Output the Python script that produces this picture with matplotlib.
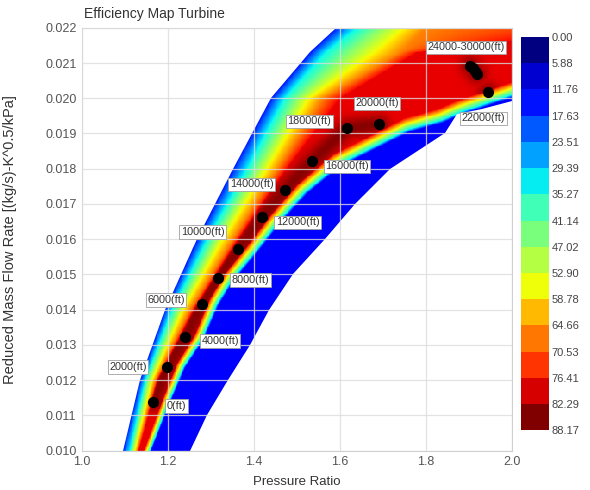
import numpy as np
import matplotlib
matplotlib.use("Agg")
import matplotlib.pyplot as plt
from matplotlib import colors
from matplotlib.cm import ScalarMappable
from matplotlib.patches import Polygon

plt.rcParams['font.family'] = ['Liberation Sans', 'DejaVu Sans']

# operating line: pressure ratio / reduced mass flow at each altitude
op_alt = [0, 2000, 4000, 6000, 8000, 10000, 12000, 14000, 16000, 18000, 20000,
          22000, 24000, 26000, 28000, 30000]
op_pr = [1.165, 1.198, 1.240, 1.279, 1.316, 1.363, 1.419, 1.472, 1.535, 1.616, 1.691,
         1.944, 1.903, 1.908, 1.913, 1.918]
op_mf = [0.01138, 0.01237, 0.01322, 0.01416, 0.01489, 0.01572, 0.01662, 0.01739, 0.01821,
         0.01915, 0.01926, 0.02017, 0.02092, 0.02085, 0.02077, 0.02070]

# altitude tags
tag_text = ["0(ft)", "2000(ft)", "4000(ft)", "6000(ft)", "8000(ft)", "10000(ft)", "12000(ft)",
            "14000(ft)", "16000(ft)", "18000(ft)", "20000(ft)", "22000(ft)", "24000-30000(ft)"]
tag_pr = [1.220, 1.107, 1.321, 1.195, 1.391, 1.281, 1.502, 1.395, 1.616, 1.528, 1.686, 1.933, 1.893]
tag_mf = [0.01126, 0.01237, 0.01311, 0.01427, 0.01484, 0.01620, 0.01648, 0.01756, 0.01807,
          0.01935, 0.01986, 0.01943, 0.02145]

# left flank of the map, per mass-flow row: pressure ratio where each efficiency level sits
row_mf = [0.0100, 0.0120, 0.0140, 0.0160, 0.0180, 0.0200, 0.0213, 0.0220]
edge_pr = [1.095, 1.135, 1.193, 1.268, 1.351, 1.440, 1.530, 1.590]
cyan_pr = [1.111, 1.147, 1.209, 1.291, 1.383, 1.470, 1.565, 1.638]
green_pr = [1.117, 1.154, 1.223, 1.309, 1.407, 1.500, 1.620, 1.693]
yellow_pr = [1.123, 1.163, 1.235, 1.328, 1.430, 1.528, 1.680, 1.750]
orange_pr = [1.128, 1.170, 1.251, 1.351, 1.455, 1.560, 1.740, 1.800]
red_pr = [1.132, 1.177, 1.263, 1.367, 1.477, 1.600, 1.779, 2.250]
flank_eff = [13.0, 32.0, 45.0, 57.0, 68.0, 80.0]

# right rim of the high-efficiency band (green contour)
rim_pr = [1.140, 1.154, 1.198, 1.232, 1.274, 1.309, 1.344, 1.398, 1.455, 1.514, 1.593,
          1.756, 1.833, 1.879, 2.000, 2.100]
rim_mf = [0.0097, 0.0100, 0.0114, 0.0124, 0.0132, 0.0142, 0.0149, 0.0157, 0.0166, 0.0174,
          0.0182, 0.0192, 0.01946, 0.0197, 0.0202, 0.0205]
rim_dist = [-9.0, -6.0, -3.0, 0.0, 3.5, 6.5]
rim_eff = [80.0, 68.0, 57.0, 45.0, 32.0, 10.0]
rim_row_mf = [0.010, 0.014, 0.018, 0.022]
rim_width = [0.45, 0.70, 0.90, 1.00]

# lower / right border of the mapped region (top to bottom)
bound_pr = [2.100, 2.000, 1.930, 1.872, 1.845, 1.715, 1.635, 1.565, 1.490, 1.435, 1.390,
            1.340, 1.290, 1.251, 1.245]
bound_mf = [0.0200, 0.01991, 0.0197, 0.01955, 0.0190, 0.0180, 0.0170, 0.0160, 0.0150,
            0.0140, 0.0130, 0.0120, 0.0110, 0.0100, 0.0098]

cb_bounds = [0.00, 5.88, 11.76, 17.63, 23.51, 29.39, 35.27, 41.14, 47.02, 52.90,
             58.78, 64.66, 70.53, 76.41, 82.29, 88.17]

# screen-like scaling so distances are measured as on the picture
SX, SY = 430.0, 35250.0


def polyline_dist(px, py, lx, ly):
    lx = np.asarray(lx, float)
    ly = np.asarray(ly, float)
    x0, y0 = lx[:-1], ly[:-1]
    dx, dy = np.diff(lx), np.diff(ly)
    t = ((px[..., None] - x0) * dx + (py[..., None] - y0) * dy) / (dx ** 2 + dy ** 2)
    t = np.clip(t, 0, 1)
    return np.hypot(px[..., None] - x0 - t * dx, py[..., None] - y0 - t * dy).min(axis=-1)


xs = np.linspace(1.0, 2.0, 500)
ys = np.linspace(0.010, 0.022, 480)
X, Y = np.meshgrid(xs, ys)
PX, PY = (X - 1.0) * SX, (Y - 0.010) * SY

# left flank
keys = [edge_pr, cyan_pr, green_pr, yellow_pr, orange_pr, red_pr]
eff_left = np.empty_like(X)
for i, y in enumerate(ys):
    k = [np.interp(y, row_mf, col) for col in keys]
    eff_left[i] = np.interp(xs, k, flank_eff)

# right rim
rim_px = (np.array(rim_pr) - 1.0) * SX
rim_py = (np.array(rim_mf) - 0.010) * SY
side = np.where(X > np.interp(Y, rim_mf, rim_pr), 1.0, -1.0)
d_rim = side * polyline_dist(PX, PY, rim_px, rim_py) / np.interp(Y, rim_row_mf, rim_width)
eff_right = np.interp(d_rim, rim_dist, rim_eff)

eff = np.minimum(eff_left, eff_right)

# darker core around the operating points
op_px = (np.array(op_pr) - 1.0) * SX
op_py = (np.array(op_mf) - 0.010) * SY
d_core = polyline_dist(PX, PY, op_px[:11], op_py[:11])
for px0, py0 in zip(op_px[11:], op_py[11:]):
    d_core = np.minimum(d_core, np.hypot(PX - px0, PY - py0))
eff = eff + 7.5 * np.exp(-(d_core / 10.0) ** 2) * np.clip((eff - 72) / 8, 0, 1)

fig = plt.figure(figsize=(5.9, 4.9), dpi=100)
ax = fig.add_axes([0.139, 0.0806, 0.729, 0.8627])

mesh = ax.pcolormesh(xs, ys, eff, cmap='jet', vmin=0, vmax=88.17, shading='auto')
outline = [(1.088, 0.0098)] + list(zip(edge_pr, row_mf)) + [(1.625, 0.0225), (2.1, 0.0225)] \
    + list(zip(bound_pr, bound_mf))
clip = Polygon(outline, closed=True, transform=ax.transData)
mesh.set_clip_path(clip)

ax.plot(op_pr, op_mf, 'o', color='black', ms=7, ls='none', zorder=4)
for t, x, y in zip(tag_text, tag_pr, tag_mf):
    ax.text(x, y, t, ha='center', va='center', fontsize=7.8, color='#333333', zorder=5,
            bbox=dict(boxstyle='square,pad=0.15', fc='white', ec='#a0a0a0', lw=0.6))

ax.set_xlim(1.0, 2.0)
ax.set_ylim(0.010, 0.022)
ax.set_xticks(np.arange(1.0, 2.01, 0.2))
ax.set_xticklabels([f"{v:.1f}" for v in np.arange(1.0, 2.01, 0.2)])
ax.set_yticks(np.arange(0.010, 0.02201, 0.001))
ax.set_yticklabels([f"{v:.3f}" for v in np.arange(0.010, 0.02201, 0.001)])
ax.tick_params(length=0, labelsize=9, colors='#555555', pad=4)
ax.set_axisbelow(False)
ax.grid(True, color='#dcdcdc', lw=0.9, alpha=0.8)
for s in ax.spines.values():
    s.set_color('#d0d0d0')
ax.set_xlabel("Pressure Ratio", fontsize=9.5, color='#333333', labelpad=6)
ax.set_ylabel("Reduced Mass Flow Rate [(kg/s)-K^0.5/kPa]", fontsize=10.5, color='#333333')
ax.yaxis.set_label_coords(-0.15, 0.5)
fig.text(0.143, 0.972, "Efficiency Map Turbine", fontsize=10, color='#333333', va='center')

cax = fig.add_axes([0.883, 0.122, 0.047, 0.8025])
sm = ScalarMappable(norm=colors.BoundaryNorm(cb_bounds, 256), cmap='jet')
cb = fig.colorbar(sm, cax=cax, ticks=cb_bounds)
cb.ax.invert_yaxis()
cb.ax.set_yticklabels([f"{b:.2f}" for b in cb_bounds])
cb.outline.set_visible(False)
cb.ax.tick_params(length=0, labelsize=8, colors='#444444', pad=2)

fig.savefig("out.png", dpi=100)
